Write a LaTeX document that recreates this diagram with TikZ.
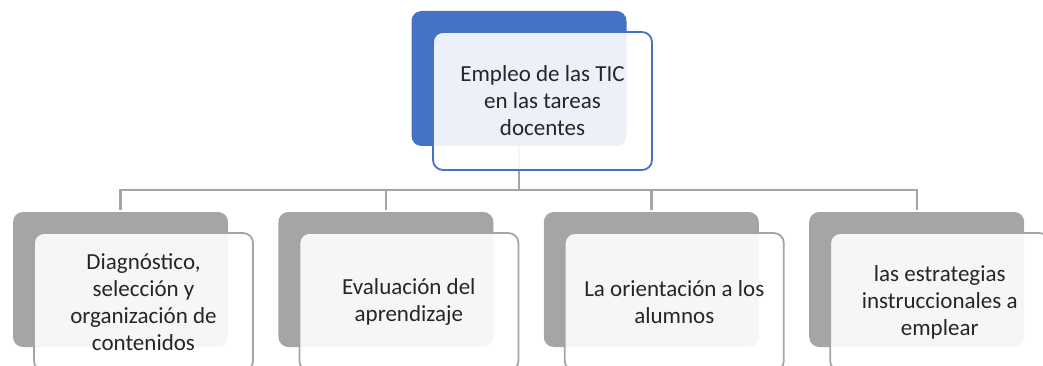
\documentclass[tikz,border=0pt]{standalone}
\usepackage{fontspec}
\setmainfont{Carlito}
\usepackage{xcolor}
\usepackage{tikz}
\usetikzlibrary{positioning, calc}

\definecolor{smartblue}{HTML}{4472C4}
\definecolor{smartgray}{HTML}{A5A5A5}

\begin{document}
\begin{tikzpicture}[
        x=1pt, y=-1pt,
        node distance=50pt,
        backbox/.style={rounded corners=10pt, minimum width=215pt, minimum height=135pt, inner sep=0pt, fill=#1},
        backbox/.default=smartgray,
        frontbox/.style={draw=#1, line width=1.8pt, rounded corners=10pt, minimum width=219pt, minimum height=138pt, inner sep=0pt, fill=white, fill opacity=0.9, text opacity=1, align=center, font=\fontsize{23}{27}\selectfont, text=black!85},
        frontbox/.default=smartgray,
        conn/.style={draw=smartgray, line width=2.4pt, shorten >=2pt},
    ]
    \path[use as bounding box, clip] (0,0) rectangle (1043,366);

    % Back shapes
    \node[backbox=smartblue] (tb) at (519,78.5) {};
    \node[backbox] (b1) at (120.5,279.5) {};
    \node[backbox, right=of b1] (b2) {};
    \node[backbox, right=of b2] (b3) {};
    \node[backbox, right=of b3] (b4) {};

    % Connectors
    \foreach \i in {1,...,4} {
        \draw[conn] (tb.south) -- ++(0,44) -| (b\i.north);
    }

    % Front shapes
    \node[frontbox=smartblue] (tf) at ([shift={(23.5,22.5)}]tb.center) {Empleo de las TIC\\en las tareas\\docentes};
    \node[frontbox] (f1) at ([shift={(23,22.5)}]b1.center) {Diagnóstico,\\selección y\\organización de\\contenidos};
    \node[frontbox] (f2) at ([shift={(23,22.5)}]b2.center) {Evaluación del\\aprendizaje};
    \node[frontbox] (f3) at ([shift={(23,22.5)}]b3.center) {La orientación a los\\alumnos};
    \node[frontbox] (f4) at ([shift={(23,22.5)}]b4.center) {las estrategias\\instruccionales a\\emplear};

\end{tikzpicture}
\end{document}
